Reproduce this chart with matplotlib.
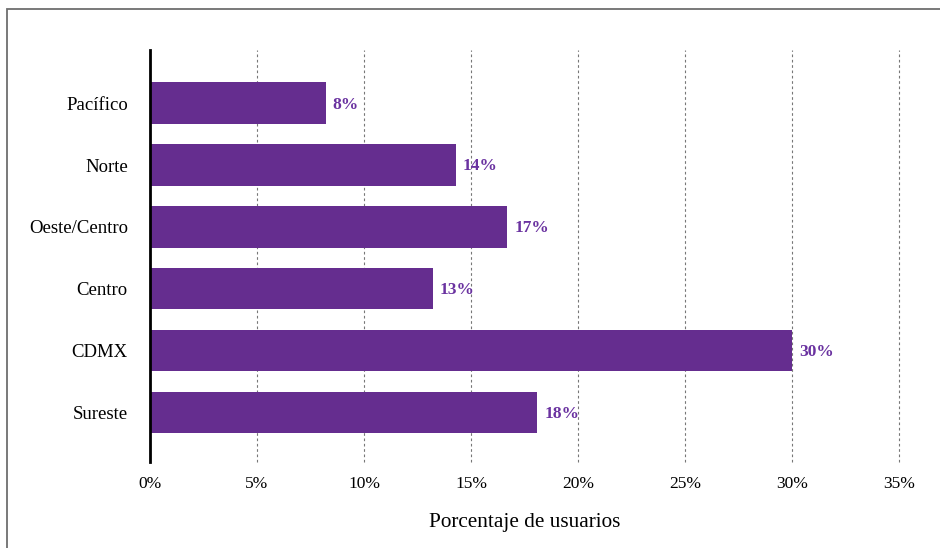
import matplotlib
matplotlib.use("Agg")
import matplotlib.pyplot as plt
from matplotlib.patches import Rectangle
from matplotlib.ticker import FuncFormatter

regions = ["Pacífico", "Norte", "Oeste/Centro", "Centro", "CDMX", "Sureste"]
shares = [8.2, 14.3, 16.7, 13.2, 30.0, 18.1]
xticks = [0, 5, 10, 15, 20, 25, 30, 35]

purple = "#652d8f"
label_purple = "#6a32a0"

plt.rcParams["font.family"] = ["Liberation Serif", "DejaVu Serif"]

fig = plt.figure(figsize=(9.4, 5.48), dpi=100)
ax = fig.add_axes([0.1596, 0.157, 0.7968, 0.7518])

# outer frame
fig.patches.append(Rectangle((7 / 940, -0.01), 1.0, 1 - 9 / 548 + 0.01,
                             transform=fig.transFigure, fill=False,
                             edgecolor="#6e6e6e", linewidth=1.3))

ypos = list(range(len(regions)))
ax.barh(ypos, shares, height=0.67, color=purple, zorder=3)

for y, v in zip(ypos, shares):
    ax.annotate(f"{v:.0f}%", xy=(v, y), xytext=(5, -1), textcoords="offset points",
                va="center", ha="left", fontsize=12.5, fontweight="bold",
                color=label_purple, zorder=4)

ax.set_ylim(len(regions) - 1 + 0.8, -0.86)
ax.set_xlim(0, 35)
ax.set_yticks(ypos)
ax.set_yticklabels(regions, fontsize=13.5)
ax.set_xticks(xticks)
ax.xaxis.set_major_formatter(FuncFormatter(lambda x, _: f"{x:.0f}%"))
ax.tick_params(axis="x", labelsize=12.5, length=0, pad=10)
ax.tick_params(axis="y", length=0, pad=16)

for x in xticks[1:]:
    ax.axvline(x, color="#777777", linestyle=(0, (2.4, 2.4)), linewidth=0.8,
               zorder=1, clip_on=False)

for side in ["top", "right", "bottom"]:
    ax.spines[side].set_visible(False)
ax.spines["left"].set_linewidth(2)
ax.spines["left"].set_color("black")
ax.spines["left"].set_zorder(5)

ax.set_xlabel("Porcentaje de usuarios", fontsize=15.3, labelpad=15)

fig.savefig("out.png", dpi=100)
